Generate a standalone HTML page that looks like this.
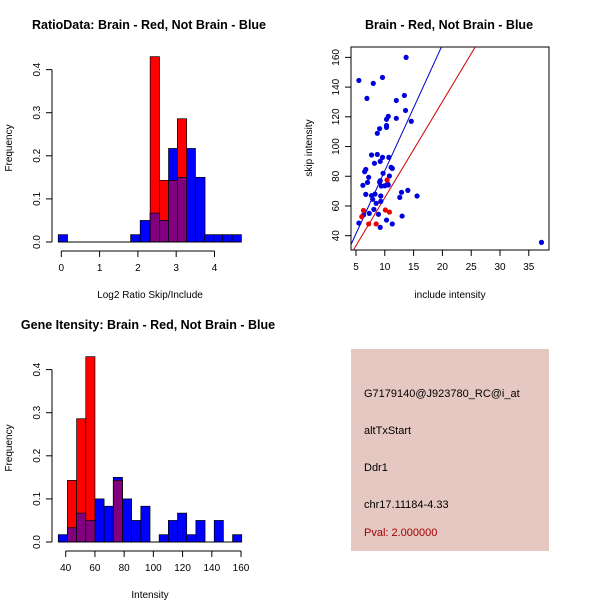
<!DOCTYPE html>
<html><head><meta charset="utf-8"><style>
body{margin:0;background:#fff;width:600px;height:600px;overflow:hidden}
svg text{font-family:"Liberation Sans",sans-serif}
</style></head><body>
<svg id="s" width="600" height="600" xmlns="http://www.w3.org/2000/svg">
<rect width="600" height="600" fill="#fff"/>
<text x="149" y="29" font-size="12.5" font-weight="bold" text-anchor="middle">RatioData: Brain - Red, Not Brain - Blue</text>
<text x="449" y="29" font-size="12.5" font-weight="bold" text-anchor="middle">Brain - Red, Not Brain - Blue</text>
<text x="148" y="329" font-size="12.5" font-weight="bold" text-anchor="middle">Gene Itensity: Brain - Red, Not Brain - Blue</text>
<text x="150" y="298" font-size="10" text-anchor="middle">Log2 Ratio Skip/Include</text>
<text x="150" y="598" font-size="10" text-anchor="middle">Intensity</text>
<text x="12" y="148" font-size="10" text-anchor="middle" transform="rotate(-90 12 148)">Frequency</text>
<text x="12" y="448" font-size="10" text-anchor="middle" transform="rotate(-90 12 448)">Frequency</text>
<text x="450" y="298" font-size="10" text-anchor="middle">include intensity</text>
<text x="312" y="148" font-size="10" text-anchor="middle" transform="rotate(-90 312 148)">skip intensity</text>
<g>
<rect x="351" y="349" width="198" height="202" fill="#e6c8c2"/>
<text x="364" y="397" font-size="11">G7179140@J923780_RC@i_at</text>
<text x="364" y="434" font-size="11">altTxStart</text>
<text x="364" y="471" font-size="11">Ddr1</text>
<text x="364" y="508" font-size="11">chr17.11184-4.33</text>
<text x="364" y="536" font-size="11" fill="#a00000">Pval: 2.000000</text>
</g>
</svg>
<script>
// Ratio histogram data
const ratioBlueStarts=[-0.08,1.81,2.06,2.32,2.56,2.80,3.03,3.26,3.51,3.74,3.98,4.21,4.46];
const ratioBlueVals=[0.017,0.017,0.05,0.067,0.05,0.217,0.15,0.217,0.15,0.017,0.017,0.017,0.017];
const ratioRedStarts=[2.32,2.56,2.80,3.03];
const ratioRedVals=[0.43,0.143,0.143,0.286];
const ratioXTicks=[0,1,2,3,4];
const freqTicks=[0.0,0.1,0.2,0.3,0.4];
// Intensity histogram data
const intBlueVals=[0.017,0.033,0.067,0.05,0.1,0.083,0.15,0.1,0.05,0.083,0,0.017,0.05,0.067,0.017,0.05,0,0.05,0,0.017];
const intRedVals=[0,0.143,0.286,0.43,0,0,0.143,0,0,0,0,0,0,0,0,0,0,0,0,0];
const intBinStart=34.9, intBinWidth=6.28;
const intXTicks=[40,60,80,100,120,140,160];
// Scatter data
const blueX=[13.7,5.5,8.0,9.6,6.9,12.0,13.4,13.6,12.0,10.6,10.3,10.3,10.3,9.1,8.7,14.6,7.7,8.7,9.6,10.7,9.2,8.2,6.7,6.5,7.2,11.1,11.3,9.7,7.0,6.2,9.2,9.1,9.4,10.0,10.6,10.8,10.5,6.7,7.7,7.9,8.3,8.5,8.1,9.3,9.3,8.9,7.3,6.3,5.5,10.3,11.3,13.0,9.2,12.9,12.6,14.0,15.6,37.2];
const blueY=[160,144.5,142.5,146.5,132.4,131,134.4,124.3,119,120.3,118.3,114.2,112.9,112,108.9,117,94.3,94.7,92.7,92.7,90,88.7,84.6,83.1,79.3,86,85.3,82,75.9,73.9,77,76.1,73.4,73.6,74.1,80.2,74.8,67.8,67,64.5,68,61.8,57.7,66.7,63.1,54.4,55,53.9,48.5,50.5,47.9,53.2,45.6,69.2,65.8,70.5,66.7,35.5];
const redX=[6.3,6.0,7.2,8.5,10.1,10.8,10.4];
const redY=[57,52.8,47.9,47.9,57.3,55.9,77.5];
const lineSlopes=[8.47,6.46];
const lineIntercepts=[-1.0,1.0];
const lineColors=['#0000cc','#cc0000'];
const scXTicks=[5,10,15,20,25,30,35];
const scYTicks=[40,60,80,100,120,140,160];

const NS='http://www.w3.org/2000/svg';
const svg=document.getElementById('s');
function el(t,a,p){const e=document.createElementNS(NS,t);for(const k in a)e.setAttribute(k,a[k]);(p||svg).appendChild(e);return e;}

function hist(g, xs, ys, yZero, ticksX, bins){
  el('line',{x1:52,y1:ys(0),x2:52,y2:ys(0.4),stroke:'#000'},g);
  freqTicks.forEach(v=>{
    el('line',{x1:46,y1:ys(v),x2:52,y2:ys(v),stroke:'#000'},g);
    const t=el('text',{x:40,y:ys(v),'font-size':10,'text-anchor':'middle',transform:`rotate(-90 40 ${ys(v)})`},g);
    t.textContent=v.toFixed(1);
  });
  const ty=yZero+9;
  el('line',{x1:xs(ticksX[0]),y1:ty,x2:xs(ticksX[ticksX.length-1]),y2:ty,stroke:'#000'},g);
  ticksX.forEach(v=>{
    el('line',{x1:xs(v),y1:ty,x2:xs(v),y2:ty+6,stroke:'#000'},g);
    const t=el('text',{x:xs(v),y:ty+20,'font-size':10,'text-anchor':'middle'},g);t.textContent=v;
  });
  bins.forEach(b=>{
    const r=el('rect',{x:xs(b.s),y:ys(b.v),width:xs(b.s+b.w)-xs(b.s),height:ys(0)-ys(b.v),fill:b.c,stroke:'#000','stroke-width':0.7},g);
    
    
  });
  el('line',{x1:xs(Math.min(...bins.map(b=>b.s))),y1:yZero,x2:xs(Math.max(...bins.map(b=>b.s+b.w))),y2:yZero,stroke:'#000'},g);
}

(function(){
  const g=el('g',{});
  
  
  const xs=v=>61.3+v*38.3, ys=v=>242-v*431;
  const w=0.243, bins=[];
  ratioBlueStarts.forEach((s,i)=>bins.push({s,w,v:ratioBlueVals[i],c:'#0000ff'}));
  ratioRedStarts.forEach((s,i)=>bins.push({s,w,v:ratioRedVals[i],c:'#ff0000'}));
  ratioRedStarts.forEach((s,i)=>{const j=ratioBlueStarts.indexOf(s);if(j>=0){bins.push({s,w,v:Math.min(ratioBlueVals[j],ratioRedVals[i]),c:'#800080'});}});
  hist(g,xs,ys,242,ratioXTicks,bins);
})();

(function(){
  const g=el('g',{});
  
  
  const xs=v=>65.7+(v-40)*1.461, ys=v=>542-v*431;
  const bins=[];
  intBlueVals.forEach((v,i)=>{if(v>0)bins.push({s:intBinStart+i*intBinWidth,w:intBinWidth,v,c:'#0000ff'});});
  intRedVals.forEach((v,i)=>{if(v>0)bins.push({s:intBinStart+i*intBinWidth,w:intBinWidth,v,c:'#ff0000'});});
  intRedVals.forEach((v,i)=>{const m=Math.min(v,intBlueVals[i]);if(m>0)bins.push({s:intBinStart+i*intBinWidth,w:intBinWidth,v:m,c:'#800080'});});
  hist(g,xs,ys,542,intXTicks,bins);
})();

(function(){
  const g=el('g',{});
  
  
  const xs=v=>356+(v-5)*5.76, ys=v=>235.7-(v-40)*1.486;
  const cp=el('clipPath',{id:'cp'},g);el('rect',{x:351,y:47,width:198,height:203},cp);
  el('rect',{x:351,y:47,width:198,height:203,fill:'none',stroke:'#000'},g);
  scXTicks.forEach(v=>{
    el('line',{x1:xs(v),y1:250,x2:xs(v),y2:256,stroke:'#000'},g);
    const t=el('text',{x:xs(v),y:270,'font-size':10,'text-anchor':'middle'},g);t.textContent=v;
  });
  scYTicks.forEach(v=>{
    el('line',{x1:345,y1:ys(v),x2:351,y2:ys(v),stroke:'#000'},g);
    const t=el('text',{x:339,y:ys(v),'font-size':10,'text-anchor':'middle',transform:`rotate(-90 339 ${ys(v)})`},g);t.textContent=v;
  });
  lineSlopes.forEach((m,i)=>{
    const x0=0,x1=40;
    const l=el('line',{x1:xs(x0),y1:ys(lineIntercepts[i]+m*x0),x2:xs(x1),y2:ys(lineIntercepts[i]+m*x1),stroke:lineColors[i],'clip-path':'url(#cp)'},g);
    
    
  });
  blueX.forEach((x,i)=>{
    const c=el('circle',{cx:xs(x),cy:ys(blueY[i]),r:2.6,fill:'#0000dd'},g);
    
    
  });
  redX.forEach((x,i)=>{
    const c=el('circle',{cx:xs(x),cy:ys(redY[i]),r:2.6,fill:'#ee0000'},g);
    
    
  });
})();
</script>
</body></html>
